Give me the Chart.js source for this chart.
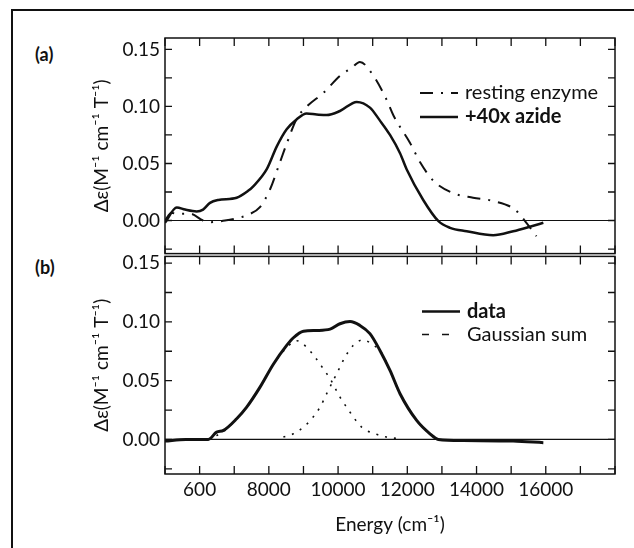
<!DOCTYPE html>
<html>
<head>
<meta charset="utf-8">
<script src="https://cdn.jsdelivr.net/npm/chart.js@4.4.1/dist/chart.umd.min.js"></script>
<style>
  body { margin: 0; background: #fff; width: 634px; height: 548px; overflow: hidden; position: relative; }
  #frame { position: absolute; left: 11px; top: 9px; width: 660px; height: 600px; border-left: 2px solid #111; border-top: 2px solid #111; }
  canvas { position: absolute; left: 0; }
  #topChart { top: 0; }
  #botChart { top: 240px; }
  .panel { position: absolute; left: 35px; font: bold 18px Lato, sans-serif; color: #111; }
</style>
</head>
<body>
<div id="frame"></div>
<div class="panel" style="top:43px">(a)</div>
<div class="panel" style="top:256px">(b)</div>
<canvas id="topChart" width="634" height="270"></canvas>
<canvas id="botChart" width="634" height="308"></canvas>
<script>
// panel (a): MCD of resting enzyme and +40x azide
const restingE = [5000, 5190, 5340, 5720, 6100, 6300, 6730, 7215, 7400, 7750, 8030, 8320, 8560, 8800, 9100, 9580, 10060, 10400, 10630, 11020, 11400, 11600, 12080, 12370, 12750, 13330, 13900, 14500, 15110, 15390, 15730];
const restingV = [0.000, 0.0068, 0.0058, 0.006, 0.000, -0.0015, 0.000, 0.003, 0.005, 0.012, 0.027, 0.051, 0.071, 0.089, 0.100, 0.112, 0.127, 0.134, 0.139, 0.127, 0.106, 0.092, 0.068, 0.051, 0.035, 0.024, 0.020, 0.017, 0.0096, 0.000, -0.0138];
const azideE = [5000, 5340, 5580, 5915, 6100, 6300, 6540, 7070, 7400, 7550, 7940, 8230, 8515, 8800, 9090, 9380, 9670, 10055, 10540, 10920, 11200, 11500, 11790, 11980, 12460, 12900, 13235, 13715, 14480, 15060, 15590, 15930];
const azideV = [-0.002, 0.0115, 0.0096, 0.008, 0.0096, 0.0155, 0.018, 0.020, 0.026, 0.030, 0.045, 0.065, 0.080, 0.0886, 0.0939, 0.093, 0.0924, 0.096, 0.104, 0.099, 0.088, 0.075, 0.059, 0.045, 0.018, -0.0006, -0.0064, -0.0094, -0.0129, -0.0094, -0.005, -0.002];

// panel (b): data and the two gaussian components
const dataE = [5000, 5600, 6250, 6490, 6690, 7070, 7360, 7745, 8130, 8515, 8710, 9000, 9380, 9770, 10055, 10345, 10630, 10920, 11210, 11500, 11790, 12270, 12655, 12895, 13620, 15060, 15930];
const dataV = [-0.0014, 0.000, 0.000, 0.0062, 0.0077, 0.0176, 0.0275, 0.0445, 0.064, 0.080, 0.0865, 0.092, 0.0927, 0.0938, 0.0984, 0.1003, 0.097, 0.090, 0.0757, 0.0587, 0.0389, 0.0162, 0.0048, 0.000, -0.001, -0.0014, -0.0028];
const gauss1E = [6250, 6700, 7070, 7360, 7745, 8130, 8515, 8805, 9090, 9335, 9575, 9770, 10055, 10245, 10680, 11065, 11400, 11800];
const gauss1V = [0.000, 0.007, 0.0176, 0.0275, 0.0445, 0.064, 0.078, 0.084, 0.0785, 0.070, 0.060, 0.0516, 0.036, 0.0275, 0.0105, 0.0048, 0.002, 0.0005];
const gauss2E = [8420, 8710, 9000, 9240, 9480, 9670, 9910, 10055, 10200, 10440, 10725, 11020, 11210, 11500, 11790, 12270, 12655, 12900];
const gauss2V = [0.002, 0.0048, 0.0105, 0.0176, 0.0275, 0.0389, 0.053, 0.0615, 0.070, 0.080, 0.0848, 0.080, 0.0757, 0.0587, 0.0389, 0.0162, 0.0048, 0.000];

// tick labels (the "600" is as printed in the figure)
const xTickValues = [6000, 8000, 10000, 12000, 14000, 16000];
const xTickText = ['600', '8000', '10000', '12000', '14000', '16000'];
const yTickText = ['0.00', '0.05', '0.10', '0.15'];
const legendA = ['resting enzyme', '+40x azide'];
const legendB = ['data', 'Gaussian sum'];

const INK = '#111';
const FONT = 'Lato, "Open Sans", sans-serif';
const pts = (xs, ys) => xs.map((x, i) => ({ x: x, y: ys[i] }));

function stepValues(min, max, step) {
    const out = [];
    for (let k = Math.ceil(min / step - 1e-9); k * step <= max + 1e-9; k++) out.push(k * step);
    return out;
}

// box, inward ticks on all four sides, zero line and the in-plot legend
const framePlugin = {
    id: 'frame',
    beforeDatasetsDraw(chart) {
        const { ctx, chartArea: a, scales: { y } } = chart;
        const y0 = y.getPixelForValue(0);
        ctx.save();
        ctx.strokeStyle = INK; ctx.lineWidth = 1.2;
        ctx.beginPath(); ctx.moveTo(a.left, y0); ctx.lineTo(a.right, y0); ctx.stroke();
        ctx.restore();
    },
    afterDatasetsDraw(chart, args, o) {
        const { ctx, chartArea: a, scales: { x, y } } = chart;
        ctx.save();
        ctx.strokeStyle = INK; ctx.setLineDash([]);
        ctx.lineWidth = 1.5;
        ctx.strokeRect(a.left, a.top, a.right - a.left, a.bottom - a.top);
        ctx.lineWidth = 1.3;
        ctx.beginPath();
        stepValues(x.min, x.max, 1000).forEach(v => {
            const px = x.getPixelForValue(v);
            ctx.moveTo(px, a.top); ctx.lineTo(px, a.top + 8);
            ctx.moveTo(px, a.bottom); ctx.lineTo(px, a.bottom - 8);
        });
        stepValues(y.min, y.max, 0.025).forEach(v => {
            const py = y.getPixelForValue(v);
            ctx.moveTo(a.left, py); ctx.lineTo(a.left + 7, py);
            ctx.moveTo(a.right, py); ctx.lineTo(a.right - 7, py);
        });
        ctx.stroke();

        (o.items || []).forEach((it, i) => {
            const yy = a.top + o.top + i * o.gap;
            const x0 = a.left + o.left;
            ctx.lineWidth = it.width; ctx.setLineDash(it.dash);
            ctx.beginPath(); ctx.moveTo(x0, yy); ctx.lineTo(x0 + 38, yy); ctx.stroke();
            ctx.setLineDash([]);
            ctx.fillStyle = INK;
            ctx.font = (it.bold ? 'bold ' : '') + '20px ' + FONT;
            ctx.textBaseline = 'middle';
            ctx.fillText(it.text, x0 + 45, yy);
        });
        ctx.restore();
    }
};

function yLabel(v) {
    const k = Math.round(v * 40);
    const s = (k / 40).toFixed(2);
    return k % 2 === 0 && yTickText.includes(s) ? s : '';
}
function xLabel(v) {
    const i = xTickValues.indexOf(Math.round(v));
    return i >= 0 ? xTickText[i] : '';
}

function yScale(min, max) {
    return {
        min: min, max: max,
        afterFit: s => { s.width = 165; },
        grid: { display: false, drawTicks: false },
        border: { display: false },
        ticks: { stepSize: 0.025, includeBounds: false, autoSkip: false, padding: 5, color: INK,
                 font: { family: FONT, size: 19 }, callback: yLabel },
        title: { display: true, text: 'Δε(M⁻¹ cm⁻¹ T⁻¹)', color: INK,
                 font: { family: FONT, size: 19 }, padding: { top: 90, bottom: 0 } }
    };
}

const lineBase = { borderColor: INK, pointRadius: 0, fill: false, cubicInterpolationMode: 'monotone' };

new Chart(document.getElementById('topChart'), {
    type: 'line',
    data: {
        datasets: [
            Object.assign({ label: legendA[1], data: pts(azideE, azideV), borderWidth: 2.5 }, lineBase),
            Object.assign({ label: legendA[0], data: pts(restingE, restingV), borderWidth: 2, borderDash: [13, 8, 2, 8] }, lineBase)
        ]
    },
    options: {
        responsive: false, animation: false, events: [],
        layout: { padding: { left: 0, right: 19, top: 38, bottom: 15 } },
        plugins: {
            legend: { display: false }, tooltip: { enabled: false },
            frame: { left: 255, top: 55, gap: 24, items: [
                { text: legendA[0], dash: [13, 8, 2, 8], width: 2, bold: false },
                { text: legendA[1], dash: [], width: 2.5, bold: true }
            ] }
        },
        scales: {
            x: { type: 'linear', min: 5000, max: 18000, display: false },
            y: yScale(-0.029, 0.160)
        }
    },
    plugins: [framePlugin]
});

new Chart(document.getElementById('botChart'), {
    type: 'line',
    data: {
        datasets: [
            Object.assign({ label: legendB[0], data: pts(dataE, dataV), borderWidth: 3 }, lineBase),
            Object.assign({ label: 'gaussian 1', data: pts(gauss1E, gauss1V), borderWidth: 1.6, borderDash: [2, 7] }, lineBase),
            Object.assign({ label: 'gaussian 2', data: pts(gauss2E, gauss2V), borderWidth: 1.6, borderDash: [2, 7] }, lineBase)
        ]
    },
    options: {
        responsive: false, animation: false, events: [],
        layout: { padding: { left: 0, right: 19, top: 15, bottom: 0 } },
        plugins: {
            legend: { display: false }, tooltip: { enabled: false },
            frame: { left: 257, top: 55, gap: 23, items: [
                { text: legendB[0], dash: [], width: 2.5, bold: true },
                { text: legendB[1], dash: [7, 13], width: 1.5, bold: false }
            ] }
        },
        scales: {
            x: {
                type: 'linear', min: 5000, max: 18000,
                afterFit: s => { s.height = 74; },
                grid: { display: false, drawTicks: false },
                border: { display: false },
                ticks: { stepSize: 1000, maxTicksLimit: 100, includeBounds: false, autoSkip: false, maxRotation: 0,
                         padding: 4, color: INK, font: { family: FONT, size: 19 }, callback: xLabel },
                title: { display: true, text: 'Energy (cm⁻¹)', color: INK,
                         font: { family: FONT, size: 19 }, padding: { top: 0, bottom: 12 } }
            },
            y: yScale(-0.0294, 0.1557)
        }
    },
    plugins: [framePlugin]
});
</script>
</body>
</html>
